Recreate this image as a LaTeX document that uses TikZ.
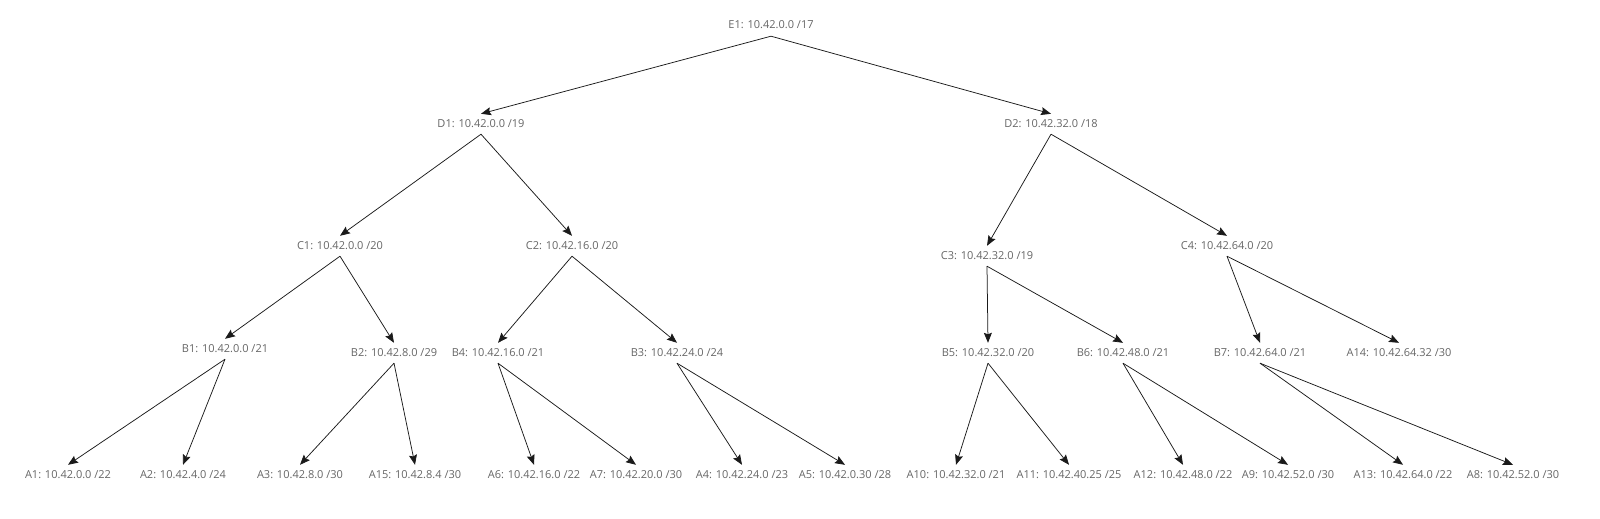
\documentclass[tikz,border=0pt]{standalone}
\usepackage{fontspec}
\setmainfont{Open Sans}
\usetikzlibrary{arrows.meta}
\definecolor{tgray}{HTML}{666666}
\definecolor{lblack}{HTML}{1A1A1A}

\begin{document}
\begin{tikzpicture}[x=1pt, y=-1pt,
    addr/.style={font=\fontsize{11}{13}\selectfont, text=tgray, inner sep=5pt, text height=8pt, text depth=2pt},
    arr/.style={-{Stealth[length=10pt, width=8pt, inset=1.5pt]}, line width=0.75pt, lblack},
]
\useasboundingbox (0,0) rectangle (1600,519);

% Root and second level
\node[addr] (e1) at (771,26) {E1: 10.42.0.0 /17};
\node[addr] (d1) at (481,124) {D1: 10.42.0.0 /19};
\node[addr] (d2) at (1051,124) {D2: 10.42.32.0 /18};

% Third level
\node[addr] (c1) at (340,246) {C1: 10.42.0.0 /20};
\node[addr] (c2) at (572,246) {C2: 10.42.16.0 /20};
\node[addr] (c3) at (987,256) {C3: 10.42.32.0 /19};
\node[addr] (c4) at (1227,246) {C4: 10.42.64.0 /20};

% Fourth level
\node[addr] (b1) at (225,349) {B1: 10.42.0.0 /21};
\node[addr] (b2) at (394,353) {B2: 10.42.8.0 /29};
\node[addr] (b4) at (498,353) {B4: 10.42.16.0 /21};
\node[addr] (b3) at (677,353) {B3: 10.42.24.0 /24};
\node[addr] (b5) at (988,353) {B5: 10.42.32.0 /20};
\node[addr] (b6) at (1123,353) {B6: 10.42.48.0 /21};
\node[addr] (b7) at (1260,353) {B7: 10.42.64.0 /21};
\node[addr] (a14) at (1399,353) {A14: 10.42.64.32 /30};

% Leaves
\node[addr] (a1) at (68,475) {A1: 10.42.0.0 /22};
\node[addr] (a2) at (183,475) {A2: 10.42.4.0 /24};
\node[addr] (a3) at (300,475) {A3: 10.42.8.0 /30};
\node[addr] (a15) at (415,475) {A15: 10.42.8.4 /30};
\node[addr] (a6) at (534,475) {A6: 10.42.16.0 /22};
\node[addr] (a7) at (636,475) {A7: 10.42.20.0 /30};
\node[addr] (a4) at (742,475) {A4: 10.42.24.0 /23};
\node[addr] (a5) at (845,475) {A5: 10.42.0.30 /28};
\node[addr] (a10) at (956,475) {A10: 10.42.32.0 /21};
\node[addr] (a11) at (1069,475) {A11: 10.42.40.25 /25};
\node[addr] (a12) at (1183,475) {A12: 10.42.48.0 /22};
\node[addr] (a9) at (1288,475) {A9: 10.42.52.0 /30};
\node[addr] (a13) at (1403,475) {A13: 10.42.64.0 /22};
\node[addr] (a8) at (1513,475) {A8: 10.42.52.0 /30};

% Arrows
\draw[arr] (e1.south) -- (d1.north);
\draw[arr] (e1.south) -- (d2.north);
\draw[arr] (d1.south) -- (c1.north);
\draw[arr] (d1.south) -- (c2.north);
\draw[arr] (d2.south) -- (c3.north);
\draw[arr] (d2.south) -- (c4.north);
\draw[arr] (c1.south) -- (b1.north);
\draw[arr] (c1.south) -- (b2.north);
\draw[arr] (c2.south) -- (b4.north);
\draw[arr] (c2.south) -- (b3.north);
\draw[arr] (c3.south) -- (b5.north);
\draw[arr] (c3.south) -- (b6.north);
\draw[arr] (c4.south) -- (b7.north);
\draw[arr] (c4.south) -- (a14.north);
\draw[arr] (b1.south) -- (a1.north);
\draw[arr] (b1.south) -- (a2.north);
\draw[arr] (b2.south) -- (a3.north);
\draw[arr] (b2.south) -- (a15.north);
\draw[arr] (b4.south) -- (a6.north);
\draw[arr] (b4.south) -- (a7.north);
\draw[arr] (b3.south) -- (a4.north);
\draw[arr] (b3.south) -- (a5.north);
\draw[arr] (b5.south) -- (a10.north);
\draw[arr] (b5.south) -- (a11.north);
\draw[arr] (b6.south) -- (a12.north);
\draw[arr] (b6.south) -- (a9.north);
\draw[arr] (b7.south) -- (a13.north);
\draw[arr] (b7.south) -- (a8.north);

\end{tikzpicture}
\end{document}
